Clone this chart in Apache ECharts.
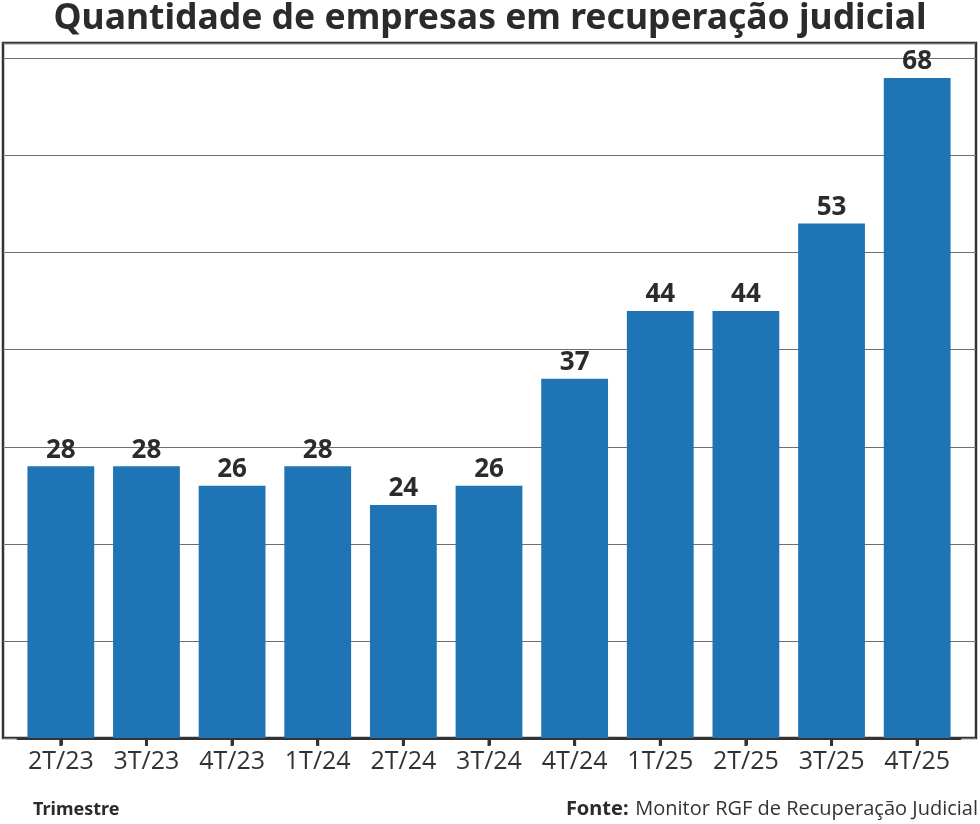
<!DOCTYPE html>
<html>
<head>
<meta charset="utf-8">
<script src="https://cdn.jsdelivr.net/npm/echarts@6/dist/echarts.min.js"></script>
<style>html,body{margin:0;padding:0;background:#fff;}#c{width:980px;height:824px;}</style>
</head>
<body>
<div id="c"></div>
<script>
const categories = ['2T/23','3T/23','4T/23','1T/24','2T/24','3T/24','4T/24','1T/25','2T/25','3T/25','4T/25'];
const values = [28, 28, 26, 28, 24, 26, 37, 44, 44, 53, 68];
const titleText = 'Quantidade de empresas em recuperação judicial';
const xAxisName = 'Trimestre';
const sourceLabel = 'Fonte:';
const sourceText = 'Monitor RGF de Recuperação Judicial';

const yMax = 71.6;
const chart = echarts.init(document.getElementById('c'), null, {renderer: 'canvas'});
chart.setOption({
  backgroundColor: '#fff',
  animation: false,
  title: {
    text: titleText,
    left: 'center',
    top: -4,
    textStyle: {fontFamily: 'Noto Sans', fontWeight: 'bold', fontSize: 35.5, color: '#2b2b2b'}
  },
  grid: [
    {left: 3, right: 4, top: 43, bottom: 86, show: true, borderColor: '#333', borderWidth: 2.5, backgroundColor: 'transparent'},
    {left: 18, right: 20, top: 43, bottom: 86, show: false}
  ],
  xAxis: [
    {gridIndex: 0, type: 'value', min: 0, max: 1, show: false},
    {
      gridIndex: 1,
      type: 'category',
      data: categories,
      axisLine: {show: true, onZero: false, lineStyle: {color: '#333', width: 3}},
      axisTick: {show: true, interval: 0, alignWithLabel: true, length: 7, lineStyle: {color: '#333', width: 3}},
      axisLabel: {interval: 0, fontFamily: 'Open Sans', fontSize: 25, color: '#333', margin: 11}
    }
  ],
  yAxis: [
    {
      gridIndex: 0,
      type: 'value',
      min: 0,
      max: yMax,
      interval: 10,
      axisLabel: {show: false},
      axisLine: {show: false},
      axisTick: {show: false},
      splitLine: {show: true, lineStyle: {color: '#6e6e6e', width: 1.2}}
    },
    {gridIndex: 1, type: 'value', min: 0, max: yMax, axisLabel: {show: false}, axisLine: {show: false}, axisTick: {show: false}, splitLine: {show: false}}
  ],
  series: [
    {
      type: 'bar',
      xAxisIndex: 1,
      yAxisIndex: 1,
      data: values,
      barWidth: '78%',
      itemStyle: {color: '#1f74b6'},
      label: {
        show: true,
        position: 'top',
        distance: 3,
        fontFamily: 'Noto Sans',
        fontWeight: 'bold',
        fontSize: 26,
        color: '#2b2b2b'
      }
    },
    {
      type: 'scatter',
      xAxisIndex: 1,
      yAxisIndex: 1,
      silent: true,
      clip: false,
      data: categories.map(c => [c, 0]),
      symbol: 'rect',
      symbolSize: [3, 8],
      symbolOffset: [0, 4],
      itemStyle: {color: '#333', opacity: 1},
      z: 3
    }
  ],
  graphic: [
    {type: 'text', left: 33, top: 801, style: {text: xAxisName, fontFamily: 'Noto Sans', fontWeight: 'bold', fontSize: 18, fill: '#2b2b2b'}},
    {type: 'text', right: 2, top: 799, style: {
      text: '{b|' + sourceLabel + '}  {n|' + sourceText + '}',
      rich: {
        b: {fontFamily: 'Noto Sans', fontWeight: 'bold', fontSize: 20, fill: '#2b2b2b', color: '#2b2b2b'},
        n: {fontFamily: 'Open Sans', fontSize: 20, fill: '#333', color: '#333'}
      }
    }}
  ]
});
</script>
</body>
</html>
